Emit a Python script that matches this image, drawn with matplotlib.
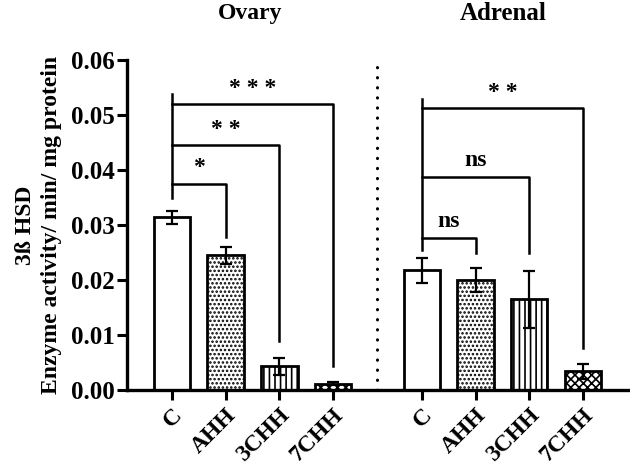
import matplotlib.pyplot as plt
import matplotlib.transforms as mtransforms
import numpy as np

# --- Data ---
groups = ["C", "AHH", "3CHH", "7CHH"]
ovary_mean = [0.0314, 0.0245, 0.0043, 0.0012]
ovary_sem = [0.0012, 0.0015, 0.0016, 0.0003]
adrenal_mean = [0.0218, 0.0200, 0.0165, 0.0034]
adrenal_sem = [0.0023, 0.0022, 0.0052, 0.0013]
hatches = ["", "....", "|||", "xxxx"]

# brackets: (from index, to index, level, right end, label)
ovary_sig = [(0, 1, 0.0375, 0.0278, "*"), (0, 2, 0.0445, 0.0090, "**"), (0, 3, 0.0520, 0.0044, "***")]
ovary_left = (0.0350, 0.0538)
adrenal_sig = [(0, 1, 0.0276, 0.0250, "ns"), (0, 2, 0.0387, 0.0250, "ns"), (0, 3, 0.0513, 0.0076, "**")]
adrenal_left = (0.0255, 0.0529)

plt.rcParams['font.family'] = ['Liberation Serif', 'DejaVu Serif']
plt.rcParams['font.weight'] = 'bold'
plt.rcParams['hatch.linewidth'] = 1.2

x_ov = np.arange(4)
x_ad = np.arange(4) + 4.66
divider = 3.83

fig = plt.figure(figsize=(6.3, 4.7), dpi=100)
ax = fig.add_axes([0.2016, 0.170, 0.795, 0.702])

for xs, means, sems in [(x_ov, ovary_mean, ovary_sem), (x_ad, adrenal_mean, adrenal_sem)]:
    for x, m, s, h in zip(xs, means, sems, hatches):
        ax.bar(x, m, width=0.68, color='white', edgecolor='black', linewidth=2.0, hatch=h, zorder=2)
        ax.errorbar(x, m, yerr=s, color='black', capsize=4.5, elinewidth=1.6, capthick=1.6, zorder=3)

def brackets(xs, sig, left):
    ax.plot([xs[0], xs[0]], left, color='black', lw=1.8, clip_on=False)
    for i, j, lvl, end, lab in sig:
        ax.plot([xs[i], xs[j], xs[j]], [lvl, lvl, end], color='black', lw=1.8, clip_on=False)
        if lab == "ns":
            ax.text((xs[i] + xs[j]) / 2, lvl + 0.0012, lab, ha='center', va='bottom',
                    fontsize=17, fontweight='bold')
        else:
            ax.text((xs[i] + xs[j]) / 2, lvl + 0.0010, " ".join(lab), ha='center', va='bottom',
                    fontsize=17, fontweight='bold')

brackets(x_ov, ovary_sig, ovary_left)
brackets(x_ad, adrenal_sig, adrenal_left)

ax.plot([divider, divider], [0, 0.06], color='black', lw=2.2, ls=(0, (0.1, 3.2)),
        dash_capstyle='round', clip_on=False)

ax.set_xlim(-0.84, 8.5)
ax.set_ylim(0, 0.06)
ax.set_yticks(np.arange(0, 0.061, 0.01))
ax.set_yticklabels([f"{v:.2f}" for v in np.arange(0, 0.061, 0.01)], fontsize=18, fontweight='bold')
ax.set_xticks(list(x_ov) + list(x_ad))
ax.set_xticklabels(groups + groups, rotation=45, ha='right', va='top', rotation_mode='anchor',
                   fontsize=17, fontweight='bold')
shift = mtransforms.ScaledTranslation(-8 / 100, 0, fig.dpi_scale_trans)
for lab in ax.get_xticklabels():
    lab.set_transform(lab.get_transform() + shift)
ax.tick_params(axis='both', direction='out', length=7, width=2.2)
ax.tick_params(axis='y', pad=2)
for side in ['top', 'right']:
    ax.spines[side].set_visible(False)
for side in ['left', 'bottom']:
    ax.spines[side].set_linewidth(2.4)

ax.set_ylabel("3ß HSD\nEnzyme activity/ min/ mg protein", fontsize=17, fontweight='bold',
              labelpad=6, linespacing=1.35)

fig.text(250 / 630, 1 - 13 / 470, "Ovary", ha='center', va='center', fontsize=17, fontweight='bold')
fig.text(503 / 630, 1 - 13 / 470, "Adrenal", ha='center', va='center', fontsize=18, fontweight='bold')

fig.savefig("out.png", dpi=100)
